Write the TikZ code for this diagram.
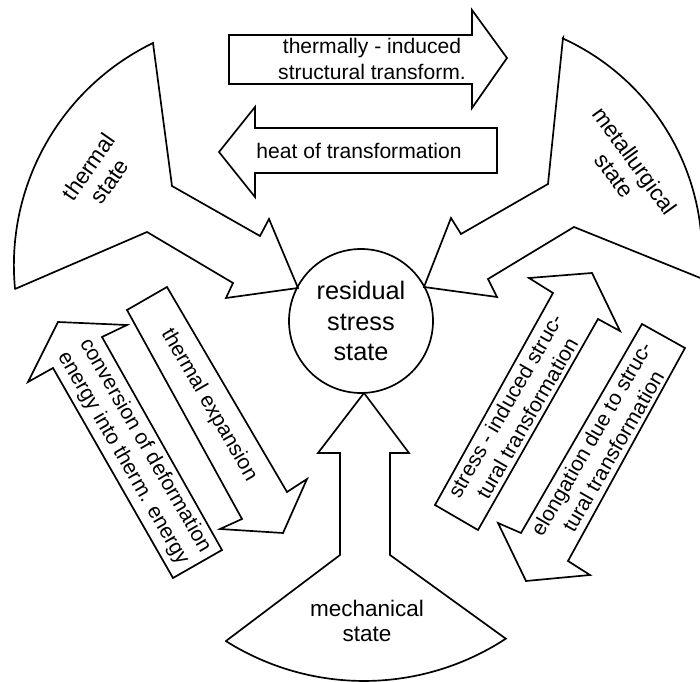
\documentclass[tikz,border=0pt]{standalone}
\usepackage{fontspec}
\setmainfont{Liberation Sans}

\begin{document}
\begin{tikzpicture}[x=0.025cm, y=-0.025cm, line width=1.2pt, line join=miter,
    every node/.style={font=\fontsize{15}{18}\selectfont, align=center, inner sep=0pt},
    statelbl/.style={font=\fontsize{16}{18}\selectfont},
    shp/.style={draw, fill=white}]
  \useasboundingbox (0,0) rectangle (700,682);
  \draw[shp] (15,289) -- (147,232) -- (233,283) -- (226,298) -- (298,288) -- (269,219) -- (260,236) -- (172,186) -- (153,43) arc[start angle=244.1, end angle=174.4, radius=247] -- cycle;
  \draw[shp] (563,38) -- (548,184) -- (461,234) -- (451,218) -- (424,287) -- (497,297) -- (488,279) -- (574,227) -- (700.9,278.2) arc[start angle=5.6, end angle=-65.5, radius=238] -- cycle;
  \draw[shp] (226,641) -- (340,555) -- (340,453) -- (318,453) -- (364,393) -- (409,453) -- (390,453) -- (390,555) -- (505.8,638.7) arc[start angle=56.8, end angle=122.2, radius=259] -- cycle;
  \draw[shp] (229,35) -- (472,35) -- (472,10) -- (507,58) -- (472,108) -- (472,84) -- (229,84) -- cycle;
  \draw[shp] (497,128) -- (255,128) -- (255,107) -- (219,152) -- (255,197) -- (255,173) -- (497,173) -- cycle;
  \draw[shp] (167,287) -- (287,492) -- (307,479) -- (283,533) -- (220,529) -- (242,519) -- (127,310) -- cycle;
  \draw[shp] (58,322) -- (127,325) -- (102,337) -- (222,550) -- (173,578) -- (53,368) -- (28,382) -- cycle;
  \draw[shp] (592,273) -- (620,331) -- (598,319) -- (478,530) -- (435,505) -- (553,293) -- (529,278) -- cycle;
  \draw[shp] (642,324) -- (685,348) -- (568,561) -- (590,575) -- (526,581) -- (498,523) -- (521,533) -- cycle;
  \node[draw, circle, minimum size=102.4pt, font=\fontsize{18}{21.5}\selectfont] (rs) at (361,321) {residual\\stress\\state};
  \node[statelbl, rotate=55] (thermal) at (99,174) {thermal\\state};
  \node[statelbl, rotate=-54] (metall) at (625,168) {metallurgical\\state};
  \node[statelbl] (mech) at (367,621) {mechanical\\state};
  \node (tis) at (372,59) {thermally - induced\\structural transform.};
  \node (hot) at (359,151) {heat of transformation};
  \node[rotate=-60] (tex) at (209,405) {thermal expansion};
  \node[rotate=-60] (conv) at (134,452) {conversion of deformation\\energy into therm. energy};
  \node[rotate=60] (sis) at (516,412) {stress - induced struc-\\tural transformation};
  \node[rotate=60] (elong) at (602,445) {elongation due to struc-\\tural transformation};
\end{tikzpicture}
\end{document}
